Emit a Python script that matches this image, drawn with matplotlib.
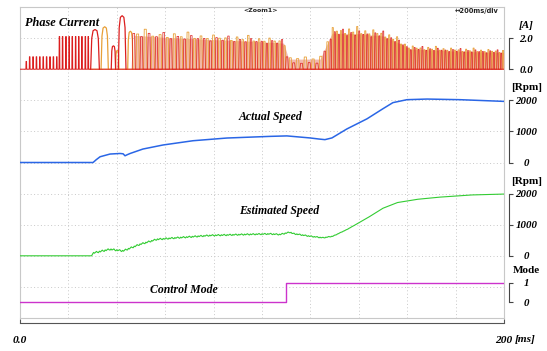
import numpy as np
import matplotlib
matplotlib.use("Agg")
import matplotlib.pyplot as plt

# ---------------- data ----------------
# actual rotor speed [rpm] vs time [ms]
act_t = [0, 30.2, 31.5, 33.1, 37.2, 41.3, 42.6, 43.4, 44.3, 45.5, 50.8, 59.1, 71.5,
         85.5, 103.3, 110.3, 119.8, 123.5, 126.0, 128.9, 135.1, 143.4, 150.0, 154.1,
         159.9, 168.2, 181.8, 200]
act_rpm = [0, 0, 90, 185, 272, 290, 280, 216, 250, 290, 433, 563, 700,
           787, 840, 855, 790, 755, 735, 790, 1080, 1405, 1730, 1925,
           2020, 2040, 2020, 1965]

# estimated speed [rpm] vs time [ms]
est_t = [0, 29.8, 29.9, 37.2, 42.6, 49.6, 56.6, 64.9, 78.5, 92.1, 103.3, 107.4,
         111.6, 112.8, 119.8, 125.2, 129.3, 135.1, 143.4, 150.0, 155.8, 164.0,
         172.3, 185.9, 200]
est_rpm = [0, 0, 85, 210, 158, 370, 530, 580, 655, 685, 705, 685,
           760, 715, 630, 580, 630, 845, 1210, 1530, 1710, 1815,
           1880, 1955, 1985]
# estimator ripple half-amplitude [rpm]
ripple_t = [29.8, 60, 110, 125, 132, 140]
ripple_amp = [28, 24, 20, 16, 5, 0]

# control mode (0 = open loop, 1 = sensorless)
mode_t = [0, 110.0, 110.0, 200]
mode_v = [0, 0, 1, 1]

# phase current: start-up pulses (red phase) [ms], [A]
early_t = [2.6, 4.0, 5.4, 6.8, 8.2, 9.6, 11.0, 12.4, 13.8, 15.2,
           16.3, 17.6, 19.0, 20.3, 21.6, 23.0, 24.3, 25.6, 27.0, 28.2]
early_a = [0.5, 0.8, 0.8, 0.8, 0.8, 0.8, 0.8, 0.8, 0.8, 0.8,
           2.1, 2.1, 2.1, 2.1, 2.1, 2.1, 2.1, 2.1, 2.1, 2.1]

# first commutation humps: centre [ms], half width [ms], peak [A], phase
hump_t = [31.0, 35.0, 38.6, 40.2, 42.2, 45.6]
hump_w = [1.8, 1.5, 0.9, 0.7, 1.6, 1.1]
hump_a = [2.55, 2.73, 1.5, 1.2, 3.44, 2.44]
hump_ph = ["r", "o", "r", "o", "r", "o"]

# running current pulses: envelopes [A] and pulse period [ms]
env_t = [47, 60, 80, 100, 109, 111, 124, 127, 129, 140, 150, 156, 161, 180, 200]
red_env = [2.3, 2.1, 1.95, 1.8, 1.7, 0.4, 0.4, 1.6, 2.3, 2.3, 2.2, 1.8, 1.35, 1.2, 1.1]
org_env = [2.35, 2.2, 2.05, 1.9, 1.8, 0.7, 0.7, 1.8, 2.5, 2.45, 2.3, 1.85, 1.4, 1.25, 1.15]
period_t = [47, 80, 109, 111, 124, 128, 200]
period_v = [3.2, 2.5, 2.0, 3.2, 3.2, 1.7, 1.5]
spike_var = [0.0, -0.12, 0.08, -0.05, 0.2, -0.1, 0.04, -0.08, 0.12, -0.03]

# ---------------- styles ----------------
RED = "#dc1e1e"
ORANGE = "#e8a038"
PINK = "#f2b9b0"
BLUE = "#2a66e6"
GREEN = "#33cc33"
MAGENTA = "#cc33cc"
GRID = "#c8c8c8"
SERIF = "Liberation Serif"

W, H = 547, 351
fig = plt.figure(figsize=(W / 100, H / 100), dpi=100)
px_l, px_r, px_t, px_b = 20, 504, 7, 318
rect = [px_l / W, 1 - px_b / H, (px_r - px_l) / W, (px_b - px_t) / H]

# scope graticule
g = fig.add_axes(rect)
g.set_xlim(0, 10)
g.set_ylim(0, 10)
g.set_xticks(range(11))
g.set_yticks(range(11))
g.tick_params(length=0, labelbottom=False, labelleft=False)
g.grid(True, linestyle=(0, (1, 2.5)), color=GRID, lw=0.7)
for s in g.spines.values():
    s.set_color(GRID)
    s.set_linewidth(0.8)


def overlay(ylim, ticks, labels):
    ax = fig.add_axes(rect)
    ax.patch.set_visible(False)
    ax.set_xlim(0, 200)
    ax.set_ylim(*ylim)
    for k in ("left", "top", "bottom"):
        ax.spines[k].set_visible(False)
    ax.spines["right"].set_position(("outward", 3.6))
    ax.spines["right"].set_bounds(ticks[0], ticks[-1])
    ax.spines["right"].set_color("#444444")
    ax.spines["right"].set_linewidth(0.8)
    ax.set_xticks([])
    ax.yaxis.tick_right()
    ax.set_yticks(ticks)
    ax.set_yticklabels(labels, family=SERIF, weight="bold", style="italic", fontsize=7.8)
    ax.tick_params(axis="y", direction="out", length=3, width=0.8, color="#444444", pad=9.5)
    for lb in ax.get_yticklabels():
        lb.set_horizontalalignment("center")
    return ax


def unit_label(ax, y, text, style="normal"):
    ax.annotate(text, xy=(1, y), xycoords=ax.get_yaxis_transform(),
                xytext=(16, 9), textcoords="offset points", ha="center", va="center",
                family=SERIF, weight="bold", style=style, fontsize=8)


# ---- phase current ----
ax_i = overlay((-16, 4), [0, 2], ["0.0", "2.0"])
unit_label(ax_i, 2, "[A]", "italic")

times = []
t = env_t[0]
while t < 200:
    times.append(t)
    t += float(np.interp(t, period_t, period_v))
times = np.array(times)
per = np.interp(times, period_t, period_v)


def pulses(tc, amp, wid):
    xs, ys = [], []
    for c, a, w in zip(tc, amp, wid):
        xs += [c - w / 2, c - w / 2 * 0.6, c + w / 2 * 0.6, c + w / 2]
        ys += [0, a, a, 0]
    return np.array(xs), np.array(ys)


var = np.resize(spike_var, len(times))
r_env = np.interp(times, env_t, red_env)
r_amp = r_env * (1 + 0.6 * var)
o_tc = times + per / 2
keep = o_tc < 200
o_tc = o_tc[keep]
o_env = np.interp(o_tc, env_t, org_env)
o_amp = o_env * (1 + 0.6 * np.roll(var, 3)[keep])

# pink body of the dense pulses
fx = np.linspace(env_t[0], 200, 800)
fy = np.maximum(np.interp(fx, env_t, red_env), np.interp(fx, env_t, org_env)) * 0.93
ax_i.fill_between(fx, 0, fy, color=PINK, lw=0, zorder=1)

hp = np.array([-1, -0.75, -0.45, 0, 0.45, 0.75, 1])
hv = np.array([0, 0.78, 0.97, 1, 0.97, 0.78, 0])
for c, w, a, ph in zip(hump_t, hump_w, hump_a, hump_ph):
    if ph == "o":
        ax_i.plot(c + hp * w, hv * a, color=ORANGE, lw=0.9, zorder=2)

ox, oy = pulses(o_tc, o_amp, 0.45 * per[keep])
ax_i.plot(np.r_[28.5, ox, 200], np.r_[0, oy, 0], color=ORANGE, lw=0.6, zorder=2)

for c, w, a, ph in zip(hump_t, hump_w, hump_a, hump_ph):
    if ph == "r":
        ax_i.plot(c + hp * w, hv * a, color=RED, lw=0.9, zorder=3)

ex, ey = pulses(early_t, early_a, [0.35] * len(early_t))
ax_i.plot(np.r_[0, ex, 200], np.r_[0, ey, 0], color=RED, lw=0.7, zorder=3)
rx, ry = pulses(times, r_amp, 0.4 * per)
ax_i.plot(rx, ry, color=RED, lw=0.5, zorder=3)

ax_i.text(2.1, 3.0, "Phase Current", family=SERIF, weight="bold", style="italic",
          fontsize=8.8, ha="left", va="center")

# ---- actual speed ----
ax_a = overlay((-5000, 5000), [0, 1000, 2000], ["0", "1000", "2000"])
unit_label(ax_a, 2000, "[Rpm]")
ax_a.plot(act_t, act_rpm, color=BLUE, lw=1.1)
ax_a.text(103.3, 1450, "Actual Speed", family=SERIF, weight="bold", style="italic",
          fontsize=8.5, ha="center", va="center")

# ---- estimated speed ----
ax_e = overlay((-2000, 8000), [0, 1000, 2000], ["0", "1000", "2000"])
unit_label(ax_e, 2000, "[Rpm]")
et = np.arange(0, 200.01, 0.4)
ev = np.interp(et, est_t, est_rpm)
ra = np.interp(et, ripple_t, ripple_amp, left=0, right=0)
saw = np.resize([0.2, 1, -0.3, -1, 0.5, -0.6], len(et))
ev = ev + ra * saw
ax_e.plot(et, ev, color=GREEN, lw=0.8)
ax_e.text(107.2, 1450, "Estimated Speed", family=SERIF, weight="bold", style="italic",
          fontsize=8.5, ha="center", va="center")

# ---- control mode ----
ax_m = overlay((-0.82, 15.13), [0, 1], ["0", "1"])
unit_label(ax_m, 1, "Mode")
ax_m.plot(mode_t, mode_v, color=MAGENTA, lw=1.0)
ax_m.text(67.8, 0.62, "Control Mode", family=SERIF, weight="bold", style="italic",
          fontsize=8.5, ha="center", va="center")

# time axis
ax_m.spines["bottom"].set_visible(True)
ax_m.spines["bottom"].set_position(("outward", 3.8))
ax_m.spines["bottom"].set_bounds(0, 200)
ax_m.spines["bottom"].set_color("#555555")
ax_m.spines["bottom"].set_linewidth(0.8)
ax_m.set_xticks([0, 200])
ax_m.set_xticklabels(["0.0", "200"], family=SERIF, weight="bold", style="italic", fontsize=8.2)
ax_m.tick_params(axis="x", direction="in", length=3, width=0.8, color="#555555", pad=9)
ax_m.annotate("[ms]", xy=(1, 0), xycoords="axes fraction", xytext=(7.5, -15.3),
              textcoords="offset points", ha="left", va="center",
              family=SERIF, weight="bold", style="italic", fontsize=8.2)

# scope header
fig.text(261 / W, 1 - 11 / H, "<Zoom1>", fontsize=4.5, weight="bold",
         ha="center", va="center", color="#222222")
fig.text(477 / W, 1 - 11 / H, "\u2194200ms/div", fontsize=4.8, weight="bold",
         ha="center", va="center", color="#222222")

fig.savefig("out.png", dpi=100)
